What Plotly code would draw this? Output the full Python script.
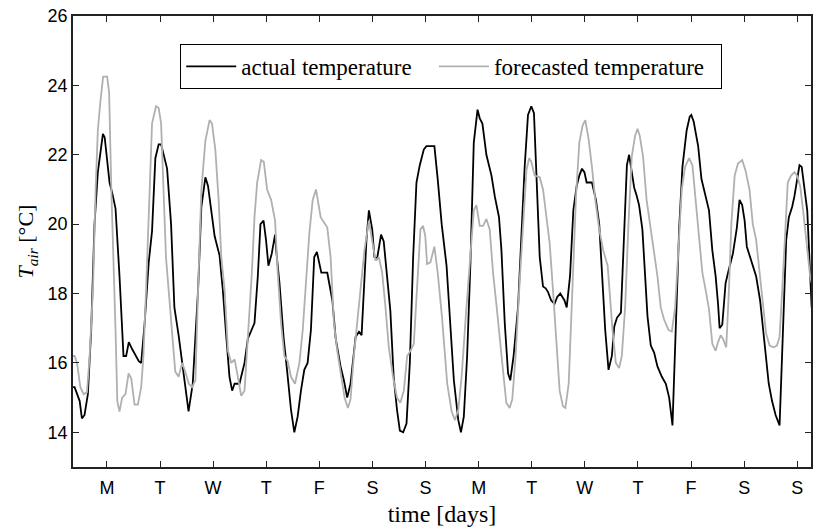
import plotly.graph_objects as go

# time in hours (tick "M" at noon of day 0)
actual_t = [-3.3, -2.6, -0.3, 0.7, 1.9, 3.4, 4.9, 6.4, 7.9, 10.2, 11.0, 13.2, 14.4, 15.9, 17.7, 19.5, 20.7, 21.9, 23.4,
            25.2, 26.4, 27.5, 29.0, 30.9, 32.4, 33.9, 35.4, 36.5, 37.5, 39.2, 41.0, 42.5, 44.4, 46.5, 48.9, 50.8, 52.3,
            53.2, 54.7, 56.5, 57.7, 59.2, 60.7, 62.9, 64.4, 65.9, 67.4, 68.6, 69.7, 71.9, 74.2, 75.7, 77.9, 78.7,
            80.2, 81.4, 82.8, 83.9, 85.0, 86.5, 88.0, 88.5, 90.0, 91.9, 93.4, 95.2, 96.7, 98.2, 99.7, 101.2, 102.7,
            104.2, 105.7, 106.9, 108.9, 111.6, 113.9, 115.4, 117.6, 119.1, 120.6, 122.1, 124.4, 125.9, 127.1, 128.1,
            129.3, 130.4, 131.9, 132.9, 134.1, 135.9, 137.1, 138.6, 140.1, 141.6, 143.1, 144.4, 145.9, 147.4, 148.9,
            150.4, 151.9, 153.4, 155.2, 156.4, 160.0, 161.5, 163.3, 165.5, 167.0, 168.8, 170.8, 172.0, 173.3, 174.8,
            176.3, 177.8, 179.5, 180.5, 181.7, 183.5, 185.8, 187.3, 189.2, 190.3, 191.8, 193.3, 194.3, 195.8, 197.8,
            199.3, 200.8, 202.3, 203.8, 205.0, 206.4, 207.6, 209.1, 210.3, 211.3, 212.8, 214.3, 215.5, 216.9, 218.8,
            219.8, 221.3, 222.8, 224.3, 225.5, 226.7, 227.8, 228.8, 231.2, 233.0, 234.5, 235.7, 237.2, 238.7, 240.2,
            241.3, 242.5, 244.3, 245.8, 247.0, 248.0, 249.2, 250.3, 251.3, 252.5, 254.0, 255.2, 256.3, 257.8, 259.3,
            260.8, 262.8, 264.6, 266.1, 267.6, 269.1, 270.6, 272.1, 274.0, 275.4, 276.1, 277.2, 279.2, 280.7, 282.6,
            284.1, 285.6, 287.1, 288.2, 288.9, 290.1, 291.6, 293.1, 294.9, 296.7, 297.9, 299.1, 300.2, 301.2, 303.2,
            305.4, 307.2, 308.7, 309.9, 311.1, 312.6, 314.2, 316.0, 317.5, 319.0, 320.2, 321.7, 322.7, 323.8, 325.0,
            326.0, 327.2, 328.5, 329.5, 330.5]
actual_v = [15.3, 15.3, 14.9, 14.4, 14.5, 15.1, 16.95, 20.0, 21.5, 22.6, 22.5, 21.2, 20.9, 20.45, 18.5, 16.2, 16.2,
            16.6, 16.4, 16.2, 16.05, 16.0, 17.1, 18.9, 19.8, 21.9, 22.3, 22.3, 22.05, 21.6, 20.0, 17.6, 16.8, 15.8,
            14.6, 15.4, 17.3, 18.1, 20.5, 21.35, 21.1, 20.4, 19.65, 19.1, 18.1, 16.8, 15.6, 15.2, 15.4, 15.4, 16.0,
            16.7, 17.05, 17.15, 18.5, 20.0, 20.1, 19.55, 18.8, 19.15, 19.7, 19.25, 18.3, 16.7, 15.8, 14.65, 14.0,
            14.45, 15.2, 15.8, 16.0, 16.95, 19.05, 19.2, 18.6, 18.6, 17.8, 16.7, 15.9, 15.5, 15.0, 15.4, 16.75, 16.9,
            16.8, 18.1, 19.55, 20.4, 19.85, 19.05, 19.0, 19.7, 19.5, 18.5, 17.5, 15.6, 14.65, 14.05, 14.0, 14.25,
            16.0, 19.05, 21.2, 21.7, 22.15, 22.25, 22.25, 21.3, 20.0, 18.8, 17.15, 15.5, 14.35, 14.0, 14.45, 16.2,
            18.9, 22.35, 23.3, 23.05, 22.9, 22.0, 21.4, 20.8, 20.2, 19.25, 17.15, 15.7, 15.5, 16.2, 17.6, 19.85, 21.65,
            23.15, 23.4, 23.2, 21.2, 19.05, 18.2, 18.15, 18.05, 17.8, 17.7, 17.9, 18.0, 17.8, 17.6, 18.5, 20.4, 21.1,
            21.4, 21.6, 21.5, 21.2, 21.2, 20.7, 20.0, 18.6, 16.95, 15.8, 16.2, 17.05, 17.3, 17.45, 19.85, 21.7, 22.0,
            21.55, 21.05, 20.85, 20.55, 19.85, 18.4, 17.35, 16.5, 16.3, 15.9, 15.6, 15.4, 15.0, 14.2, 17.15, 19.85,
            21.65, 22.7, 23.1, 23.15, 22.95, 22.25, 21.3, 20.8, 20.4, 19.25, 18.5, 17.7, 17.0, 17.1, 18.3, 18.7, 19.15,
            19.9, 20.7, 20.55, 20.1, 19.35, 18.95, 18.5, 17.8, 16.85, 16.0, 15.4, 14.9, 14.5, 14.2, 16.95, 19.55,
            20.2, 20.5, 20.8, 21.3, 21.7, 21.65, 21.1, 20.4, 19.0, 17.6]

forecast_t = [-3.3, -2.6, -1.5, 0.0, 1.5, 3.0, 4.2, 5.7, 6.9, 7.9, 9.0, 10.3, 12.1, 13.0, 14.0, 15.0, 15.9, 16.7, 17.7,
              18.9, 20.4, 21.8, 23.0, 24.5, 26.0, 27.5, 28.5, 29.7, 31.2, 32.4, 34.2, 35.4, 36.5, 37.5, 38.7, 39.9,
              41.4, 42.9, 44.4, 46.0, 47.4, 49.0, 50.5, 52.0, 53.2, 54.7, 56.5, 58.4, 59.5, 61.0, 62.5, 63.7, 65.2,
              66.7, 68.2, 69.7, 70.9, 72.7, 74.2, 75.7, 77.5, 78.7, 79.9, 81.7, 82.9, 84.4, 86.2, 88.0, 89.2, 90.7,
              92.2, 93.7, 95.2, 97.0, 99.0, 100.5, 102.0, 103.5, 105.0, 106.5, 108.6, 111.6, 113.1, 114.6, 116.1,
              117.9, 119.4, 120.9, 122.1, 123.6, 125.1, 126.6, 128.4, 130.4, 131.9, 133.4, 134.9, 136.4, 137.9, 139.4,
              141.3, 143.1, 144.6, 146.2, 147.7, 149.2, 150.7, 152.2, 153.7, 154.9, 155.9, 156.7, 158.2, 160.0, 161.5,
              163.4, 164.3, 165.8, 167.8, 169.3, 170.8, 172.3, 174.2, 176.3, 177.8, 179.0, 180.5, 182.0, 183.5, 185.0,
              186.5, 188.0, 189.5, 191.3, 192.5, 194.0, 195.2, 196.7, 198.5, 200.0, 201.6, 202.8, 203.8, 205.3, 207.6,
              209.1, 210.6, 212.1, 213.6, 215.1, 216.6, 218.1, 219.2, 220.7, 222.2, 224.0, 225.5, 227.0, 228.2, 229.7,
              231.2, 232.7, 234.5, 236.3, 238.3, 239.3, 240.5, 242.0, 243.5, 244.7, 246.2, 247.7, 249.2, 250.7, 251.8,
              252.8, 254.3, 255.9, 257.8, 259.3, 260.8, 262.3, 263.8, 265.8, 267.3, 268.8, 270.3, 271.8, 273.3, 275.1,
              276.6, 278.1, 279.6, 281.1, 282.6, 284.1, 285.6, 287.1, 288.2, 289.4, 290.4, 291.9, 293.1, 294.2, 295.7,
              297.2, 299.1, 300.6, 302.4, 303.9, 305.4, 306.9, 308.4, 309.9, 311.5, 313.3, 314.8, 316.0, 317.2, 318.7,
              319.7, 321.2, 322.7, 323.9, 325.3, 326.8, 328.3, 329.8, 330.5]
forecast_v = [16.2, 16.2, 16.0, 15.3, 15.1, 15.15, 16.2, 18.1, 21.0, 22.7, 23.5, 24.25, 24.25, 23.8, 21.0, 19.05, 16.95,
              14.9, 14.6, 15.0, 15.1, 15.7, 15.55, 14.8, 14.8, 15.3, 16.2, 18.1, 21.0, 22.9, 23.4, 23.35, 22.9, 21.2,
              19.05, 18.1, 16.95, 15.75, 15.6, 16.0, 15.75, 15.4, 15.3, 15.5, 18.1, 21.0, 22.4, 23.0, 22.9, 22.15,
              20.7, 19.05, 18.1, 16.35, 16.0, 16.1, 15.7, 15.05, 15.2, 16.65, 18.6, 20.2, 21.2, 21.85, 21.8, 21.0, 20.7,
              20.1, 18.6, 17.15, 16.2, 16.05, 15.6, 15.4, 16.0, 16.95, 18.3, 19.75, 20.7, 21.0, 20.2, 19.9, 19.05, 17.15,
              16.35, 15.6, 15.0, 14.7, 14.95, 16.2, 17.15, 18.1, 19.25, 20.1, 19.55, 18.95, 19.05, 18.6, 17.6, 16.45,
              15.6, 15.0, 14.85, 15.2, 16.2, 16.35, 16.55, 18.1, 19.85, 19.95, 19.65, 18.85, 18.9, 19.35, 18.6, 17.35,
              16.65, 15.4, 14.6, 14.35, 14.65, 15.6, 17.35, 19.05, 20.4, 20.55, 19.95, 19.95, 20.15, 19.85, 18.6, 17.7,
              16.65, 15.6, 14.85, 14.7, 14.95, 16.2, 18.3, 20.0, 21.55, 21.9, 21.8, 21.4, 21.35, 21.0, 20.2, 19.45, 18.1,
              16.65, 15.2, 14.75, 14.7, 15.4, 18.1, 20.8, 22.35, 22.85, 23.0, 22.45, 21.65, 20.7, 19.85, 19.25, 18.8,
              17.9, 16.95, 16.0, 15.85, 16.2, 17.6, 20.0, 21.95, 22.55, 22.75, 22.55, 21.95, 20.7, 19.85, 19.25, 18.5,
              17.6, 17.25, 16.95, 16.9, 17.6, 19.25, 21.0, 21.65, 21.9, 21.7, 20.7, 19.55, 18.6, 18.1, 17.55, 16.55,
              16.35, 16.6, 16.8, 16.7, 16.45, 18.1, 20.0, 21.4, 21.75, 21.85, 21.55, 21.0, 20.0, 19.55, 18.7, 17.7,
              16.85, 16.5, 16.45, 16.5, 16.75, 18.1, 20.0, 21.2, 21.4, 21.5, 21.4, 21.1, 20.3, 19.45, 18.5, 18.3]

day_ticks = [12 + 24 * k for k in range(14)]
day_labels = ["M", "T", "W", "T", "F", "S", "S", "M", "T", "W", "T", "F", "S", "S"]
y_ticks = [14, 16, 18, 20, 22, 24, 26]
series_names = ["actual temperature", "forecasted temperature"]

serif = "Liberation Serif, Times New Roman, serif"
NB = "\u00a0"

fig = go.Figure()
fig.add_trace(go.Scatter(x=actual_t, y=actual_v, mode="lines", name=series_names[0] + NB * 3,
                         line=dict(color="black", width=1.8)))
fig.add_trace(go.Scatter(x=forecast_t, y=forecast_v, mode="lines", name=series_names[1] + NB * 2,
                         line=dict(color="#b0b0b0", width=1.8)))

axis_common = dict(showgrid=False, zeroline=False, showline=True, linecolor="#222", linewidth=1.5,
                   mirror="ticks", ticks="inside", ticklen=6, tickcolor="#222", tickwidth=1,
                   tickfont=dict(family="Liberation Sans, Arial", size=18, color="black"))

fig.update_layout(
    width=813, height=529,
    margin=dict(l=73, r=0, t=16, b=62),
    paper_bgcolor="white", plot_bgcolor="white",
    showlegend=True,
    legend=dict(orientation="h", x=0.5125, xanchor="center", y=0.938, yanchor="top",
                bgcolor="white", bordercolor="black", borderwidth=1,
                font=dict(family=serif, size=23, color="black"),
                itemwidth=50),
    xaxis=dict(range=[-3.32, 330.2], tickvals=day_ticks, ticktext=day_labels, ticklabelstandoff=4,
               title=dict(text="time [days]", standoff=8,
                          font=dict(family=serif, size=24, color="black")),
               **axis_common),
    yaxis=dict(range=[13, 26], tickvals=y_ticks,
               title=dict(text="<i>T</i><sub><i>air</i></sub> [°C]", standoff=8,
                          font=dict(family=serif, size=22, color="black")),
               **axis_common),
)

fig.write_html("out.html")
